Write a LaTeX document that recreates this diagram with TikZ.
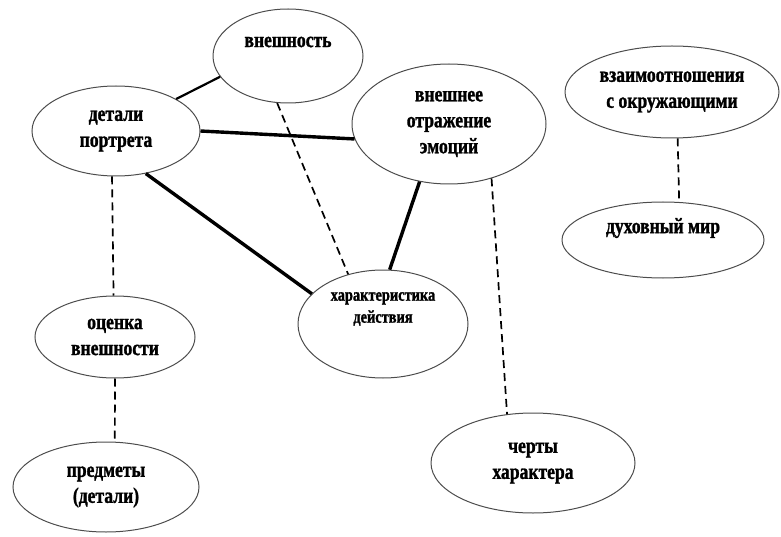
\documentclass[tikz,border=0pt]{standalone}
\usepackage{fontspec}
\newfontfamily\diagfont{Liberation Serif Bold}[FakeStretch=0.8,FakeBold=1.3]
\usetikzlibrary{shapes.geometric}
\begin{document}
\begin{tikzpicture}[x=1pt,y=-1pt,
        oval/.style={ellipse,draw=black!70,line width=1pt,inner sep=0pt,align=center,font=\diagfont\fontsize{22}{26}\selectfont},
        bond/.style={black,line width=3.4pt},
        thin bond/.style={black,line width=2.2pt},
        link/.style={black,line width=1.7pt,dash pattern=on 8pt off 5pt},
        every label/.style={align=center,font=\diagfont\fontsize{22}{26}\selectfont}]
    \useasboundingbox (0,0) rectangle (781,537);
    \node[oval,minimum width=150pt,minimum height=94pt,label={[yshift=14pt]center:внешность}] (vn) at (288,56) {};
    \node[oval,minimum width=168pt,minimum height=90pt] (det) at (116,131) {детали\\портрета};
    \node[oval,minimum width=194pt,minimum height=120pt] (emo) at (449,124) {внешнее\\отражение\\эмоций};
    \node[oval,minimum width=214pt,minimum height=92pt] (rel) at (672,92) {взаимоотношения\\с окружающими};
    \node[oval,minimum width=202pt,minimum height=76pt,label={[yshift=12pt]center:духовный мир}] (dux) at (663,240) {};
    \node[oval,minimum width=170pt,minimum height=108pt,label={[yshift=15pt,font=\diagfont\fontsize{18}{22}\selectfont]center:характеристика\\действия}] (char) at (383,324) {};
    \node[oval,minimum width=160pt,minimum height=82pt] (ots) at (115,337) {оценка\\внешности};
    \node[oval,minimum width=186pt,minimum height=90pt] (pred) at (106,487) {предметы\\(детали)};
    \node[oval,minimum width=204pt,minimum height=100pt] (cher) at (533,463) {черты\\характера};
    \draw[thin bond] (vn.197) -- (det.28);
    \draw[bond] (det.0) -- (emo.189);
    \draw[bond] (det.305) -- (char.157);
    \draw[bond] (emo.243) -- (char.83);
    \draw[link] (vn.257) -- (char.125);
    \draw[link] (emo.308) -- (cher.118);
    \draw[link] (det.265) -- (ots.92);
    \draw[link] (ots.270) -- (pred.79);
    \draw[link] (rel.277) -- (dux.67);
\end{tikzpicture}
\end{document}
